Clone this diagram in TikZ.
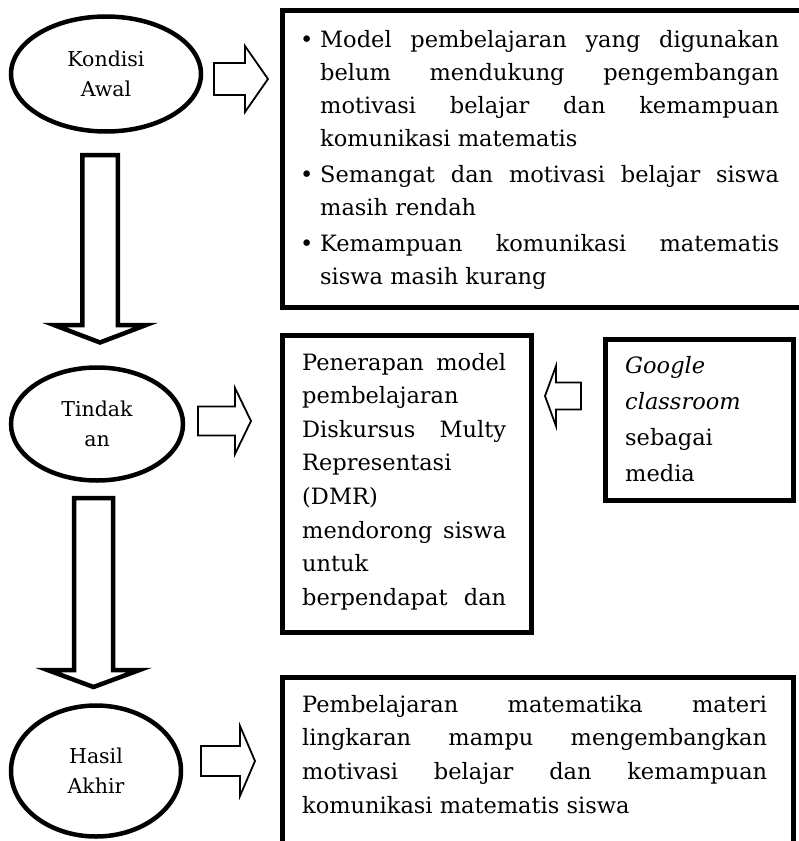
\documentclass[tikz,border=0pt]{standalone}
\usepackage{fontspec}
\setmainfont{DejaVu Serif}
\usetikzlibrary{shapes.geometric, calc}

\hbadness=10000

\tikzset{
  tahap/.style={draw, ellipse, line width=4.5pt, inner sep=0pt, align=center, font=\fontsize{20.5}{30}\selectfont},
  kotak/.style={draw, rectangle, line width=5pt, inner sep=0pt, anchor=north west},
  isi/.style={anchor=base west, inner sep=0pt, align=justify},
  panahtipis/.style={draw, line width=1.8pt, fill=white, line join=miter},
  panahtebal/.style={draw, line width=4.5pt, fill=white, line join=miter}
}

% #1 style, #2 tail, #3 tip, #4 half shaft, #5 half head, #6 head length
\newcommand{\blokpanah}[6]{%
  \coordinate (q) at ($(#3)!#6!(#2)$);
  \draw[#1] ($(#2)!#4!90:(#3)$) -- ($(q)!#4!90:(#3)$) -- ($(q)!#5!90:(#3)$) -- (#3)
    -- ($(q)!#5!-90:(#3)$) -- ($(q)!#4!-90:(#3)$) -- ($(#2)!#4!-90:(#3)$) -- cycle;}

\begin{document}
\begin{tikzpicture}[x=1pt, y=-1pt]
\useasboundingbox (0,0) rectangle (799,841);
\clip (0,0) rectangle (799,841);

% tahapan
\node[tahap, minimum width=190pt, minimum height=115pt] (awal) at (106,74) {Kondisi\\Awal};
\node[tahap, minimum width=172pt, minimum height=113pt] (tindakan) at (97,424) {Tindak\\an};
\node[tahap, minimum width=170pt, minimum height=131pt] (hasil) at (96,771) {Hasil\\Akhir};

% kotak
\node[kotak, minimum width=530pt, minimum height=297.5pt] (masalah) at (280,7.5) {};
\node[kotak, minimum width=249pt, minimum height=297pt] (penerapan) at (280,332.5) {};
\node[kotak, minimum width=188pt, minimum height=161pt] (media) at (602.5,336.5) {};
\node[kotak, minimum width=510.5pt, minimum height=185pt] (capaian) at (280,674.5) {};

\node[isi, text width=479pt, font=\fontsize{22.5}{33}\selectfont] (teksmasalah) at (300,47) {%
  \setlength{\parskip}{3pt}%
  \hangindent=20pt\hangafter=1\noindent\makebox[20pt][l]{\textbullet}Model pembelajaran yang digunakan\linebreak
  belum mendukung pengembangan\linebreak motivasi belajar dan kemampuan\linebreak komunikasi matematis\par
  \hangindent=20pt\hangafter=1\noindent\makebox[20pt][l]{\textbullet}Semangat dan motivasi belajar siswa\linebreak
  masih rendah\par
  \hangindent=20pt\hangafter=1\noindent\makebox[20pt][l]{\textbullet}Kemampuan komunikasi matematis\linebreak
  siswa masih kurang\par};
\node[isi, text width=204pt, font=\fontsize{22.5}{33.6}\selectfont] (tekspenerapan) at (302,370) {%
  \parfillskip=0pt
  Penerapan model\linebreak pembelajaran\linebreak Diskursus Multy\linebreak Representasi\linebreak
  (DMR)\linebreak mendorong siswa\linebreak untuk\linebreak berpendapat dan\par};
\node[anchor=base west, inner sep=0pt, text width=160pt, align=left, font=\fontsize{22.5}{36.3}\selectfont] (teksmedia) at (625,373)
  {\textit{Google}\\\textit{classroom}\\sebagai\\media};
\node[isi, text width=465pt, font=\fontsize{22.5}{33.7}\selectfont] (tekscapaian) at (302,712) {%
  Pembelajaran matematika materi\linebreak lingkaran mampu mengembangkan\linebreak
  motivasi belajar dan kemampuan\linebreak komunikasi matematis siswa};

% panah
\coordinate (r1a) at (214,79);   \coordinate (r1b) at (268,79);
\coordinate (r2a) at (198,421);  \coordinate (r2b) at (251,421);
\coordinate (r3a) at (201,761);  \coordinate (r3b) at (255,761);
\coordinate (ma) at (581,396);   \coordinate (mb) at (545,396);
\coordinate (d1a) at (100,155);  \coordinate (d1b) at (100,342.5);
\coordinate (d2a) at (93.5,498); \coordinate (d2b) at (93.5,687);
\blokpanah{panahtipis}{r1a}{r1b}{16pt}{33pt}{23pt}
\blokpanah{panahtipis}{r2a}{r2b}{14.5pt}{33pt}{16pt}
\blokpanah{panahtipis}{r3a}{r3b}{15pt}{35pt}{15pt}
\blokpanah{panahtipis}{ma}{mb}{13.5pt}{30pt}{11pt}
\blokpanah{panahtebal}{d1a}{d1b}{17.75pt}{46pt}{17.5pt}
\blokpanah{panahtebal}{d2a}{d2b}{19.5pt}{46pt}{17pt}
\end{tikzpicture}
\end{document}
